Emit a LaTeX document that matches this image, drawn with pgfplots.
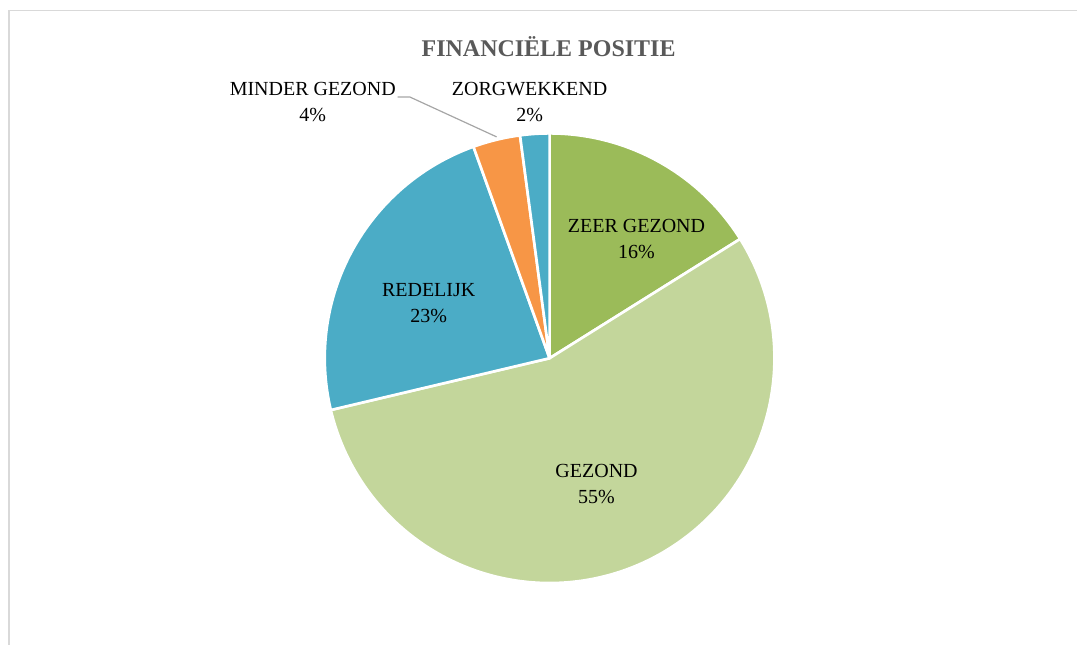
\documentclass[border=0pt]{standalone}
\usepackage{pgfplots}
\pgfplotsset{compat=1.18}
\usepackage{pgfplotstable}
\usepackage{fontspec}
\setmainfont{Liberation Serif}
\definecolor{zeer}{HTML}{9BBB59}
\definecolor{gezond}{HTML}{C3D69B}
\definecolor{redelijk}{HTML}{4BACC6}
\definecolor{minder}{HTML}{F79646}
\definecolor{zorg}{HTML}{4BACC6}
\definecolor{titlegray}{HTML}{595959}
\definecolor{framegray}{HTML}{D9D9D9}
% share (%) of each category, clockwise from 12 o'clock
\pgfplotstableread{
cat value
zeer 16.1
gezond 55.2
redelijk 23.2
minder 3.4
zorg 2.1
}\piedata
\begin{document}
\begin{tikzpicture}
\begin{axis}[
  x=0.75pt, y=0.75pt,
  xmin=0, xmax=1078, ymin=0, ymax=645,
  hide axis, clip=false,
]
\path (axis cs:0,0) rectangle (axis cs:1078,645);
\draw[framegray, line width=1.2pt] (axis cs:9,0) -- (axis cs:9,634.5) -- (axis cs:1078,634.5);
\xdef\curang{90}
\pgfplotstablegetrowsof{\piedata}
\pgfmathtruncatemacro\nrows{\pgfplotsretval-1}
\foreach \i in {0,...,\nrows}{
  \pgfplotstablegetelem{\i}{value}\of{\piedata}\let\val\pgfplotsretval
  \pgfplotstablegetelem{\i}{cat}\of{\piedata}\let\col\pgfplotsretval
  \pgfmathsetmacro\endang{\curang-3.6*\val}
  \edef\temp{\noexpand\filldraw[fill=\col, draw=white, line width=2pt, line join=round]
    (axis cs:550,286.5) -- ++(\curang:168.75pt)
    arc[start angle=\curang, end angle=\endang, radius=168.75pt] -- cycle;}
  \temp
  \xdef\curang{\endang}
}
\draw[color={rgb,255:red,166;green,166;blue,166}, line width=0.9pt] (axis cs:398,548) -- (axis cs:410,548) -- (axis cs:497,508);
\node[font=\fontsize{18}{20}\selectfont\bfseries, text=titlegray] at (axis cs:549,598) {FINANCIËLE POSITIE};
\tikzset{lab/.style={align=center, font=\fontsize{15}{19.5}\selectfont, text=black}}
\node[lab] at (axis cs:313,543) {MINDER GEZOND\\4\%};
\node[lab] at (axis cs:530,543) {ZORGWEKKEND\\2\%};
\node[lab] at (axis cs:637,406) {ZEER GEZOND\\16\%};
\node[lab] at (axis cs:429,342) {REDELIJK\\23\%};
\node[lab] at (axis cs:597,161) {GEZOND\\55\%};
\end{axis}
\end{tikzpicture}
\end{document}
